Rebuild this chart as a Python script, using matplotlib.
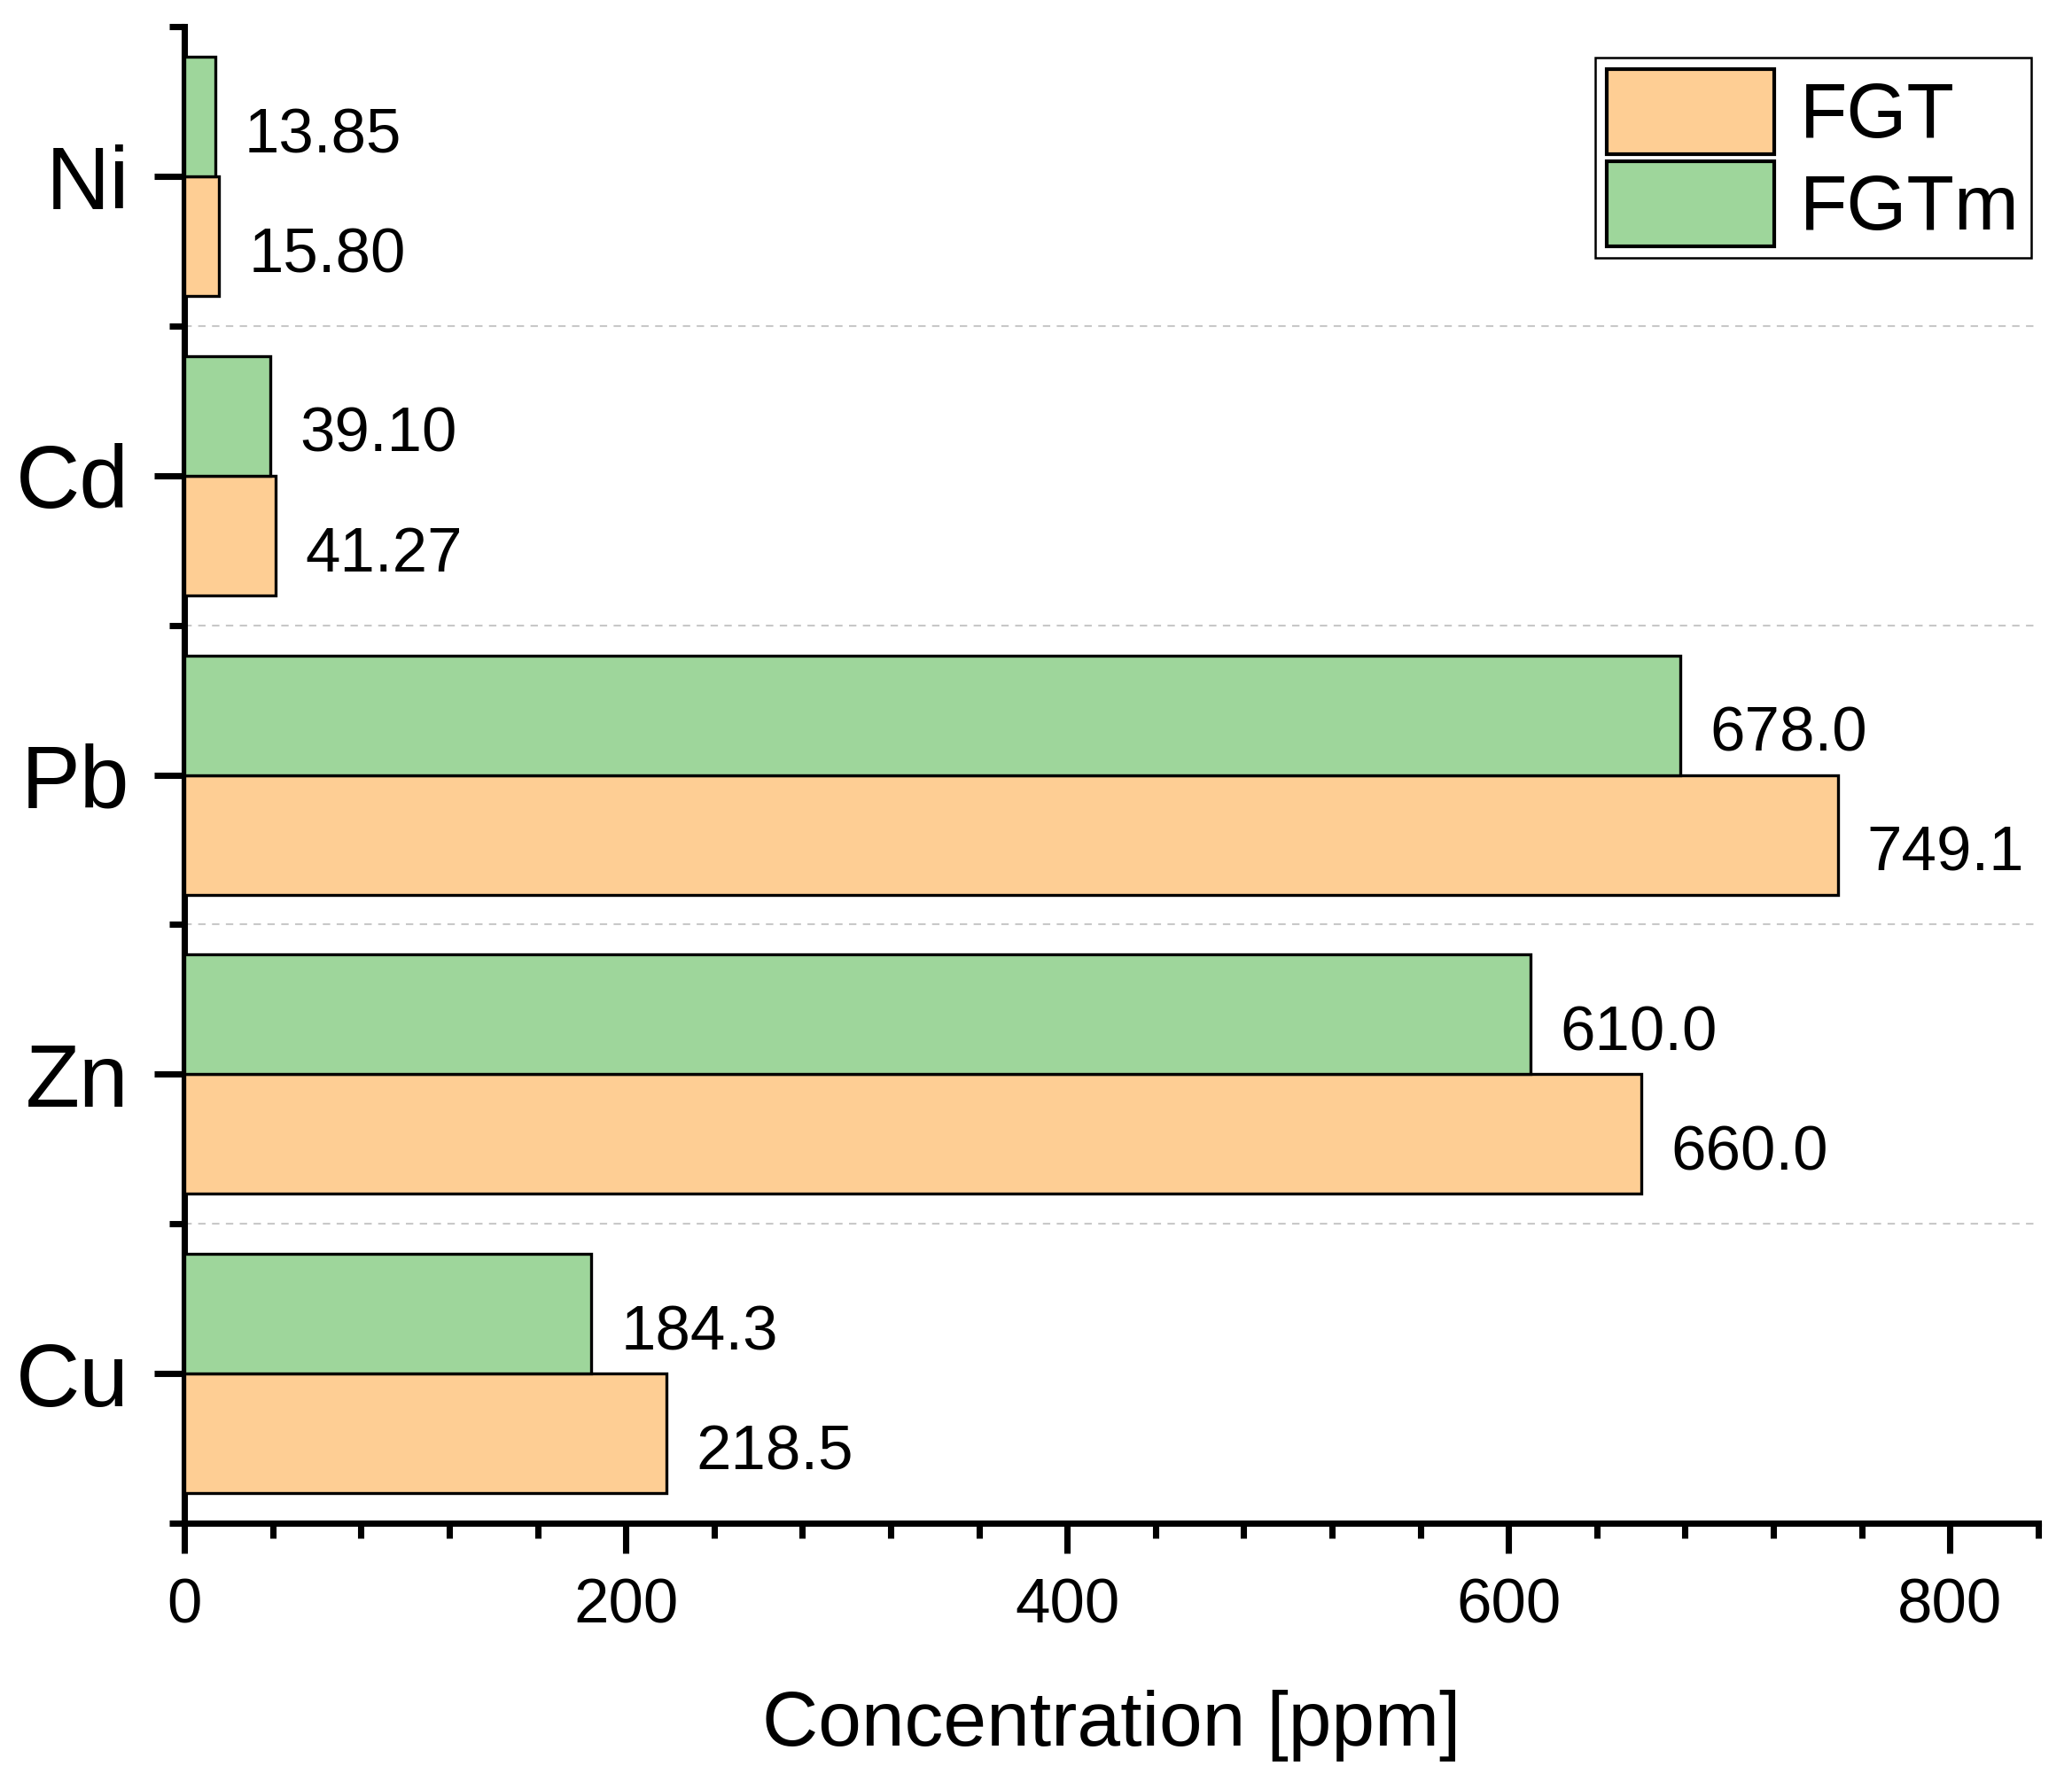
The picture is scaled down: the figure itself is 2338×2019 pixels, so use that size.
import numpy as np
import matplotlib.pyplot as plt
from matplotlib.ticker import MultipleLocator, FixedLocator

plt.rcParams['font.family'] = ['Liberation Sans', 'DejaVu Sans']

# data (bottom to top)
metals = ["Cu", "Zn", "Pb", "Cd", "Ni"]
fgt = [218.5, 660.0, 749.1, 41.27, 15.80]
fgtm = [184.3, 610.0, 678.0, 39.10, 13.85]

c_fgt = "#FECE94"
c_fgtm = "#9ED69B"

fig = plt.figure(figsize=(2338 / 300, 2019 / 300), dpi=300)
ax = fig.add_axes([0.089, 0.1486, 0.8947, 0.8364])

y = np.arange(len(metals))
h = 0.4
b1 = ax.barh(y - h / 2, fgt, height=h, color=c_fgt, edgecolor="black",
             linewidth=0.8, label="FGT", zorder=3)
b2 = ax.barh(y + h / 2, fgtm, height=h, color=c_fgtm, edgecolor="black",
             linewidth=0.8, label="FGTm", zorder=3)

# value labels
for bars, vals in [(b1, fgt), (b2, fgtm)]:
    for rect, v in zip(bars, vals):
        yc = rect.get_y() + rect.get_height() / 2
        ax.annotate("%#.4g" % v, (v, yc), xytext=(8.0, -5.4),
                    textcoords="offset points", va="center", ha="left",
                    fontsize=17, zorder=4)

# dashed separators between groups
for yy in np.arange(0.5, len(metals) - 0.5, 1):
    ax.axhline(yy, color="#C8C8C8", lw=0.5, ls=(0, (4, 3.5)), zorder=1)

ax.set_xlim(0, 840)
ax.set_ylim(-0.5, len(metals) - 0.5)

ax.xaxis.set_major_locator(MultipleLocator(200))
ax.xaxis.set_minor_locator(MultipleLocator(40))
ax.set_yticks(y)
ax.set_yticklabels(metals, fontsize=24)
ax.yaxis.set_minor_locator(FixedLocator(np.arange(-0.5, len(metals), 1)))

ax.tick_params(axis="both", which="major", direction="out", length=8.2,
               width=1.7, color="black")
ax.tick_params(axis="both", which="minor", direction="out", length=4,
               width=1.7, color="black")
ax.tick_params(axis="x", which="major", labelsize=17, pad=6.5)
ax.tick_params(axis="y", which="major", pad=6.7)

for s in ["top", "right"]:
    ax.spines[s].set_visible(False)
for s in ["left", "bottom"]:
    ax.spines[s].set_linewidth(1.7)

ax.set_xlabel("Concentration [ppm]", fontsize=21, labelpad=14.5)

leg = ax.legend(loc="upper right", bbox_to_anchor=(0.9803, 0.9678),
                bbox_transform=fig.transFigure, borderaxespad=0,
                fontsize=21, handlelength=2.16, handleheight=1.3,
                labelspacing=0.1, borderpad=0.15, handletextpad=0.33,
                fancybox=False, framealpha=1, edgecolor="black")
leg.get_frame().set_linewidth(0.6)
for p in leg.get_patches():
    p.set_linewidth(1.0)

fig.savefig("out.png", dpi=300)
